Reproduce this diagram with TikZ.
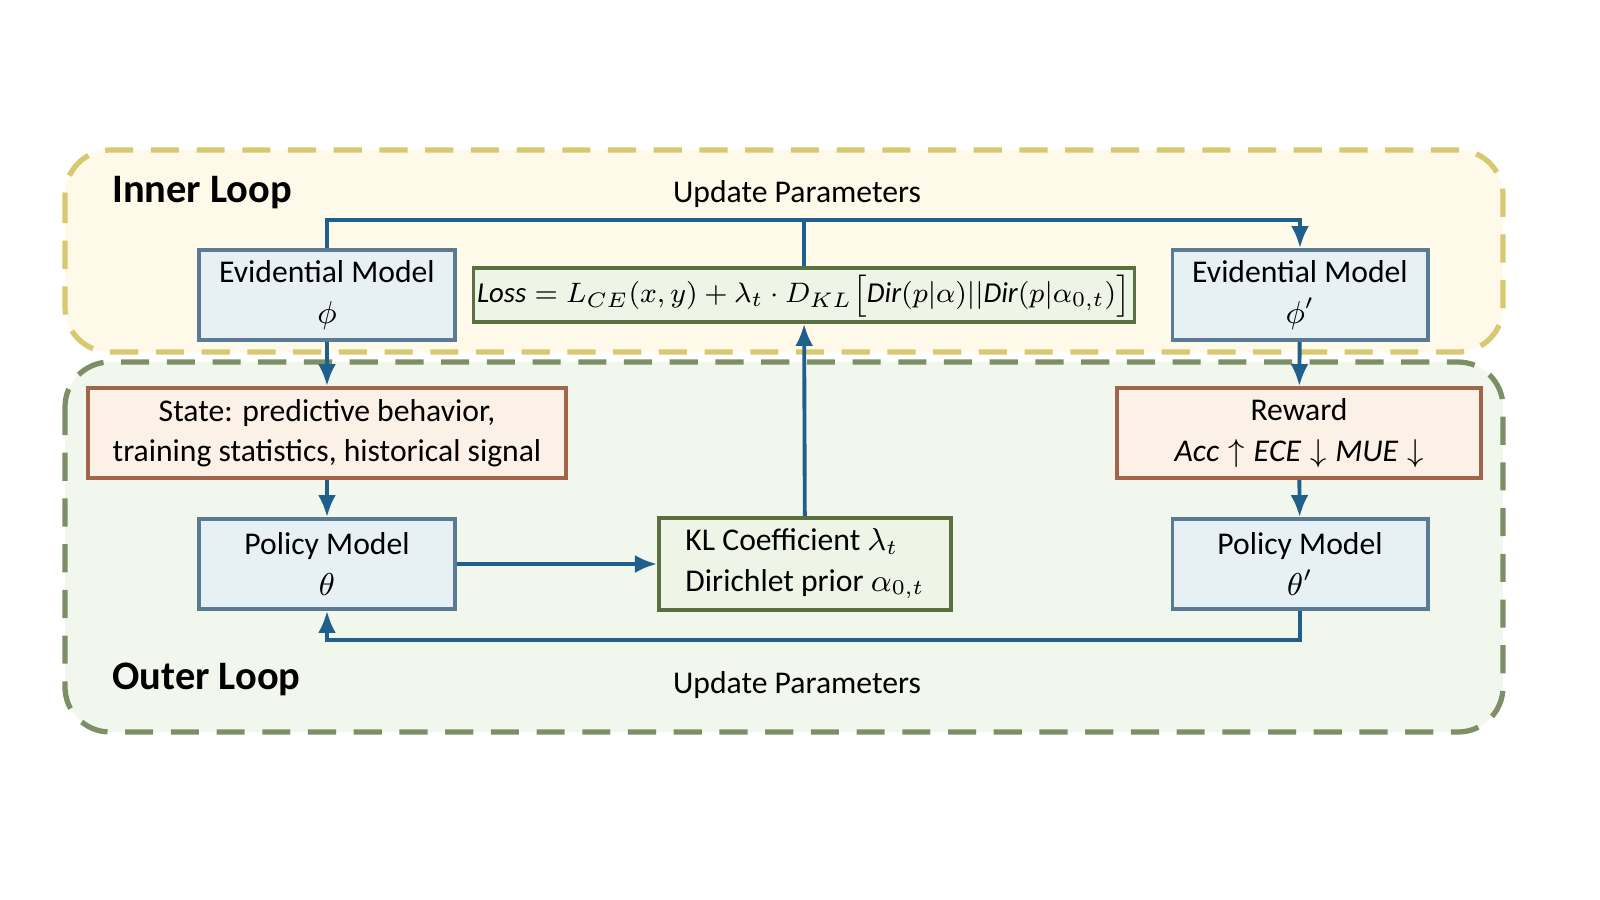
\documentclass[tikz,border=0pt]{standalone}
\usepackage{fontspec}
\setmainfont{Carlito}
\usetikzlibrary{arrows.meta,positioning}
\definecolor{flowblue}{HTML}{1F5F8B}
\tikzset{font={\fontsize{9}{11.5}\selectfont}}
\tikzstyle{modelbox} = [draw={rgb,255:red,91;green,122;blue,147}, fill={rgb,255:red,230;green,240;blue,245}, line width=1.1pt, minimum width=2.55cm, minimum height=0.9cm, align=center, inner sep=1pt]
\tikzstyle{infobox} = [draw={rgb,255:red,160;green,101;blue,74}, fill={rgb,255:red,252;green,241;blue,230}, line width=1.1pt, minimum height=0.9cm, align=center, inner sep=1pt]
\tikzstyle{greenbox} = [draw={rgb,255:red,90;green,112;blue,64}, fill={rgb,255:red,238;green,245;blue,230}, line width=1.1pt, align=center, inner sep=1pt]
\tikzstyle{flow} = [draw=flowblue, line width=1.1pt, -{Latex[length=2.2mm,width=1.8mm]}]
\tikzstyle{looptitle} = [font={\fontsize{11.5}{13}\selectfont\bfseries}, anchor=west]

\begin{document}
\begin{tikzpicture}[x=0.01cm, y=-0.01cm]
  \useasboundingbox (0,0) rectangle (1600,900);

  % loop regions
  \filldraw[draw={rgb,255:red,216;green,200;blue,112}, fill={rgb,255:red,254;green,249;blue,232}, line width=1.5pt, dash pattern=on 8pt off 5pt, rounded corners=0.45cm] (65,150) rectangle (1503,352);
  \filldraw[draw={rgb,255:red,125;green,143;blue,102}, fill={rgb,255:red,242;green,247;blue,238}, line width=1.5pt, dash pattern=on 8pt off 5pt, rounded corners=0.45cm] (65,362) rectangle (1503,732);
  \node[looptitle] (innertitle) at (100,193) {Inner Loop};
  \node[looptitle] (outertitle) at (100,679) {Outer Loop};

  % boxes
  \node[modelbox] (evid) at (327,295) {Evidential Model\\$\phi$};
  \node[modelbox] (evidnew) at (1300,295) {Evidential Model\\$\phi'$};
  \node[greenbox, minimum width=6.46cm, minimum height=0.54cm, font={\fontsize{8.2}{10}\selectfont}] (loss) at (804,295)
    {$\mathit{Loss} = L_{CE}(x,y) + \lambda_t\cdot D_{KL}\big[\mathit{Dir}(p|\alpha)||\mathit{Dir}(p|\alpha_{0,t})\big]$};
  \node[infobox, minimum width=4.78cm] (state) at (327,433) {State: predictive behavior,\\training statistics, historical signal};
  \node[infobox, minimum width=3.64cm] (reward) at (1299,433) {Reward\\$\mathit{Acc}\uparrow \mathit{ECE}\downarrow \mathit{MUE}\downarrow$};
  \node[modelbox] (policy) at (327,564) {Policy Model\\$\theta$};
  \node[modelbox] (policynew) at (1300,564) {Policy Model\\$\theta'$};
  \node[greenbox, minimum width=2.92cm, minimum height=0.92cm, align=left] (kl) at (805,564)
    {KL Coefficient $\lambda_t$\\Dirichlet prior $\alpha_{0,t}$};

  \coordinate (topleft) at (327,220);
  \coordinate (topmid) at (804,220);
  \coordinate (topright) at (1300,220);
  \coordinate (botleft) at (327,640);
  \coordinate (botright) at (1300,640);

  \node (updtop) at (797,194) {Update Parameters};
  \node (updbot) at (797,685) {Update Parameters};

  % connectors
  \draw[flow] (evid.north) -- (topleft) -- (topright) -- (evidnew.north);
  \draw[draw=flowblue, line width=1.1pt] (loss.north) -- (topmid);
  \draw[flow] (evid) -- (state);
  \draw[flow] (state) -- (policy);
  \draw[flow] (policy) -- (kl);
  \draw[flow] (kl) -- (loss);
  \draw[flow] (evidnew) -- (reward);
  \draw[flow] (reward) -- (policynew);
  \draw[flow] (policynew.south) -- (botright) -- (botleft) -- (policy.south);
\end{tikzpicture}
\end{document}
